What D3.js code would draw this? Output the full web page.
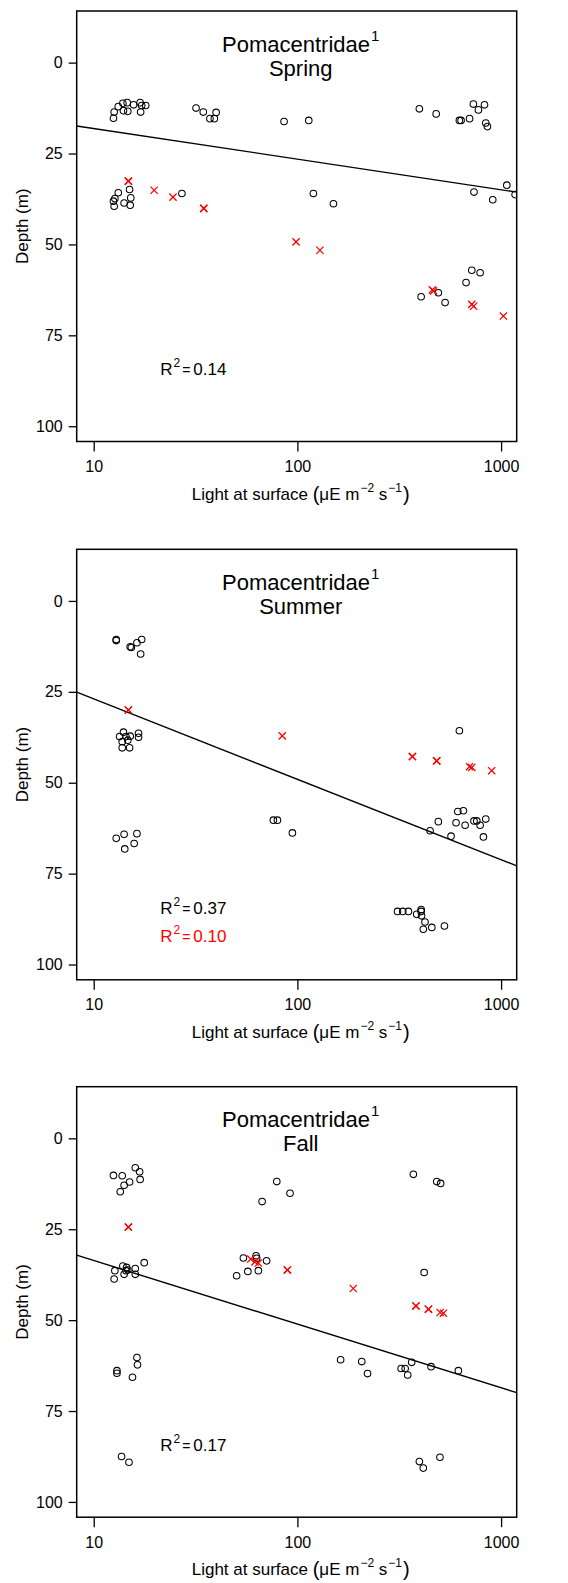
<!DOCTYPE html>
<html>
<head>
<meta charset="utf-8">
<script src="https://cdn.jsdelivr.net/npm/d3@7/dist/d3.min.js"></script>
<style>
  html, body { margin: 0; padding: 0; background: #fff; }
  svg { display: block; font-family: "Liberation Sans", Arial, sans-serif; }
</style>
</head>
<body>
<div id="chart"></div>
<script>
// Pomacentridae depth vs. surface light, one panel per season.
// Points are [light (µE m^-2 s^-1), depth (m)].

const seasons = ["Spring", "Summer", "Fall"];

const springCircles = [
  [12.5, 15.3], [12.6, 13.6], [13.2, 12.1], [13.9, 11.2], [14.0, 13.2], [14.6, 11.0],
  [14.7, 13.4], [15.7, 11.6], [16.9, 11.0], [17.0, 13.6], [17.2, 11.8], [18.0, 11.8],
  [31.8, 12.5], [34.5, 13.6], [37.2, 15.4], [39.1, 15.4], [39.9, 13.7],
  [86.0, 16.2], [113.7, 15.9],
  [397, 12.7], [480, 14.1], [624, 15.9], [636, 15.9], [700, 15.4], [731, 11.4],
  [774, 13.0], [829, 11.6], [841, 16.6], [857, 17.6],
  [12.5, 38.1], [12.6, 39.5], [12.7, 37.4], [13.2, 35.8], [14.1, 38.6], [15.0, 34.9],
  [15.2, 37.2], [15.1, 39.2],
  [27.1, 36.0], [119.8, 36.0], [150.3, 38.8], [736, 35.6], [1067, 33.7], [910, 37.7], [1172, 36.3],
  [405, 64.4], [492, 63.3], [531, 66.0], [673, 60.5], [718, 57.1], [789, 57.8]
];
const springCrosses = [
  [14.8, 32.6], [14.8, 32.6], [19.8, 35.1], [24.5, 37.0], [34.7, 40.1], [34.7, 40.1],
  [98.5, 49.3], [129, 51.6], [460, 62.5], [466, 62.8], [718, 66.5], [733, 67.0], [1026, 69.7]
];

const summerCircles = [
  [12.9, 10.6], [12.9, 10.9], [15.1, 12.6], [15.3, 12.8], [16.3, 11.5], [17.2, 10.6], [17.0, 14.6],
  [13.4, 37.3], [14.0, 36.1], [13.8, 38.7], [14.7, 38.3], [15.0, 40.4], [13.8, 40.4],
  [15.1, 37.2], [16.6, 36.4], [16.6, 37.5], [14.4, 37.3],
  [624, 35.7],
  [12.9, 65.3], [14.1, 64.2], [14.2, 68.2], [15.8, 66.7], [16.3, 64.0],
  [76.2, 60.3], [79.8, 60.3], [94.5, 63.8],
  [448, 63.2], [492, 60.7], [568, 64.7], [601, 61.0], [613, 57.9], [653, 57.7],
  [666, 61.7], [736, 60.5], [760, 60.5], [789, 61.7], [841, 60.0], [819, 64.9],
  [310, 85.4], [329, 85.4], [351, 85.4], [405, 84.9], [405, 85.4], [385, 86.2],
  [407, 86.6], [423, 88.3], [415, 90.3], [457, 89.8], [527, 89.4]
];
const summerCrosses = [
  [14.8, 30.0], [14.8, 30.0], [84.3, 37.1], [367, 42.8], [367, 42.8], [483, 44.0], [483, 44.0],
  [700, 45.6], [718, 45.8], [899, 46.7]
];

const fallCircles = [
  [12.5, 10.2], [13.8, 10.3], [14.1, 12.9], [13.5, 14.7], [15.0, 12.0], [16.0, 8.1], [16.8, 9.2], [16.9, 11.3],
  [79.2, 11.9], [67.1, 17.4], [92.0, 15.1],
  [371, 9.9], [483, 11.9], [505, 12.4],
  [50.3, 37.8], [54.3, 32.9], [57.1, 36.6], [62.7, 32.3], [63.1, 33.0], [64.3, 36.4], [70.6, 33.7],
  [12.6, 38.7], [12.7, 36.4], [13.9, 35.1], [14.1, 37.4], [14.5, 35.5], [14.7, 36.2],
  [16.0, 35.8], [16.0, 37.4], [17.7, 34.2], [14.4, 36.4],
  [419, 36.9],
  [13.0, 63.9], [13.0, 64.6], [16.3, 60.3], [16.4, 62.3], [15.5, 65.7],
  [163, 60.9], [207, 61.4], [221, 64.7], [323, 63.3], [338, 63.3], [348, 65.1],
  [364, 61.6], [453, 62.8], [617, 63.9],
  [13.7, 87.5], [14.9, 89.1], [397, 88.9], [415, 90.7], [501, 87.7]
];
const fallCrosses = [
  [14.8, 24.4], [14.8, 24.4], [59.0, 33.2], [61.9, 34.0], [64.3, 34.3], [89.3, 36.2], [89.3, 36.2],
  [188, 41.3], [382, 46.1], [382, 46.1], [440, 47.0], [440, 47.0], [502, 47.9], [521, 48.1]
];

// Fitted lines: depth = intercept + slope * log10(light)
const fitIntercepts = [9.7, 4.85, 16.1];
const fitSlopes = [8.42, 22.1, 17.5];

const r2Circles = ["0.14", "0.37", "0.17"];
const r2Crosses = [null, "0.10", null];

const xTicks = [10, 100, 1000];
const yTicks = [0, 25, 50, 75, 100];

const circleSets = [springCircles, summerCircles, fallCircles];
const crossSets = [springCrosses, summerCrosses, fallCrosses];

// ---- layout ----
const W = 568, H = 1583;
const plotLeft = 76.7, plotW = 440, plotH = 430.5;
const panelTops = [11, 549.3, 1086.7];
const RED = "#ff0000";

const x = d3.scaleLog().domain([8.25, 1193]).range([0, plotW]);
const y = d3.scaleLinear().domain([-14.2, 104.2]).range([0, plotH]);

const svg = d3.select("#chart").append("svg")
  .attr("width", W).attr("height", H)
  .attr("viewBox", `0 0 ${W} ${H}`);

svg.append("rect").attr("width", W).attr("height", H).attr("fill", "#fff");

svg.append("defs").append("clipPath").attr("id", "plot-clip")
  .append("rect").attr("width", plotW).attr("height", plotH);

const crossPath = "M-3.6,-3.6L3.6,3.6M-3.6,3.6L3.6,-3.6";

seasons.forEach((season, i) => {
  const g = svg.append("g").attr("transform", `translate(${plotLeft},${panelTops[i]})`);

  // axes
  const yAxis = d3.axisLeft(y).tickValues(yTicks).tickSize(8).tickPadding(6)
    .tickFormat(d3.format("d"));
  const yg = g.append("g").call(yAxis);
  yg.select(".domain").remove();
  yg.selectAll("line").attr("stroke", "#000").attr("stroke-width", 1.3);
  yg.selectAll("text").attr("font-size", 16).attr("fill", "#000")
    .attr("font-family", "'Liberation Sans', Arial, sans-serif");

  const xAxis = d3.axisBottom(x).tickValues(xTicks).tickSize(10).tickPadding(9)
    .tickFormat(d3.format("d"));
  const xg = g.append("g").attr("transform", `translate(0,${plotH})`).call(xAxis);
  xg.select(".domain").remove();
  xg.selectAll("line").attr("stroke", "#000").attr("stroke-width", 1.3);
  xg.selectAll("text").attr("font-size", 16).attr("fill", "#000")
    .attr("font-family", "'Liberation Sans', Arial, sans-serif");

  // data marks, clipped to the plot box
  const plot = g.append("g").attr("clip-path", "url(#plot-clip)");

  const lineGen = d3.line().x(d => x(d)).y(d => y(fitIntercepts[i] + fitSlopes[i] * Math.log10(d)));
  plot.append("path")
    .datum(x.domain())
    .attr("d", lineGen)
    .attr("fill", "none").attr("stroke", "#000").attr("stroke-width", 1.4);

  plot.selectAll("circle.pt").data(circleSets[i]).join("circle")
    .attr("class", "pt")
    .attr("cx", d => x(d[0])).attr("cy", d => y(d[1]))
    .attr("r", 3.3)
    .attr("fill", "none").attr("stroke", "#000").attr("stroke-width", 1.05);

  plot.selectAll("path.cross").data(crossSets[i]).join("path")
    .attr("class", "cross")
    .attr("transform", d => `translate(${x(d[0])},${y(d[1])})`)
    .attr("d", crossPath)
    .attr("fill", "none").attr("stroke", RED).attr("stroke-width", 1.3);

  // plot frame
  g.append("rect").attr("width", plotW).attr("height", plotH)
    .attr("fill", "none").attr("stroke", "#000").attr("stroke-width", 1.5);

  // two-line title: family name with footnote mark, then season
  const title = g.append("text")
    .attr("text-anchor", "middle").attr("font-size", 22).attr("fill", "#000");
  title.append("tspan").attr("x", plotW / 2 + 4).attr("y", 40.5).text("Pomacentridae");
  title.append("tspan").attr("font-size", 15).attr("dy", -11).attr("dx", 1).text("1");
  g.append("text")
    .attr("x", plotW / 2 + 4).attr("y", 64.5)
    .attr("text-anchor", "middle").attr("font-size", 22).attr("fill", "#000")
    .text(season);

  // R^2 annotations
  const r2 = (val, depth, color) => {
    const t = g.append("text")
      .attr("x", x(21.2)).attr("y", y(depth))
      .attr("font-size", 17).attr("fill", color);
    t.append("tspan").text("R");
    t.append("tspan").attr("font-size", 12).attr("dy", -8).attr("dx", 1).text("2");
    t.append("tspan").attr("font-size", 14).attr("dy", 8).attr("dx", 2).text("=");
    t.append("tspan").attr("dx", 3).text(val);
  };
  r2(r2Circles[i], 86.0, "#000");
  if (r2Crosses[i]) r2(r2Crosses[i], 93.8, RED);

  // axis titles
  const xt = g.append("text")
    .attr("x", plotW / 2 + 4).attr("y", plotH + 58)
    .attr("text-anchor", "middle").attr("font-size", 17).attr("fill", "#000");
  xt.append("tspan").text("Light at surface ");
  xt.append("tspan").attr("font-size", 20).attr("dy", 1).text("(");
  xt.append("tspan").attr("dy", -1).text("μE m");
  xt.append("tspan").attr("font-size", 12).attr("dy", -8).attr("dx", 1).text("−2");
  xt.append("tspan").attr("dy", 8).text(" s");
  xt.append("tspan").attr("font-size", 12).attr("dy", -8).attr("dx", 1).text("−1");
  xt.append("tspan").attr("font-size", 20).attr("dy", 9).attr("dx", 1).text(")");

  g.append("text")
    .attr("transform", `translate(${28 - plotLeft},${plotH / 2}) rotate(-90)`)
    .attr("text-anchor", "middle").attr("font-size", 17).attr("fill", "#000")
    .text("Depth (m)");
});
</script>
</body>
</html>
